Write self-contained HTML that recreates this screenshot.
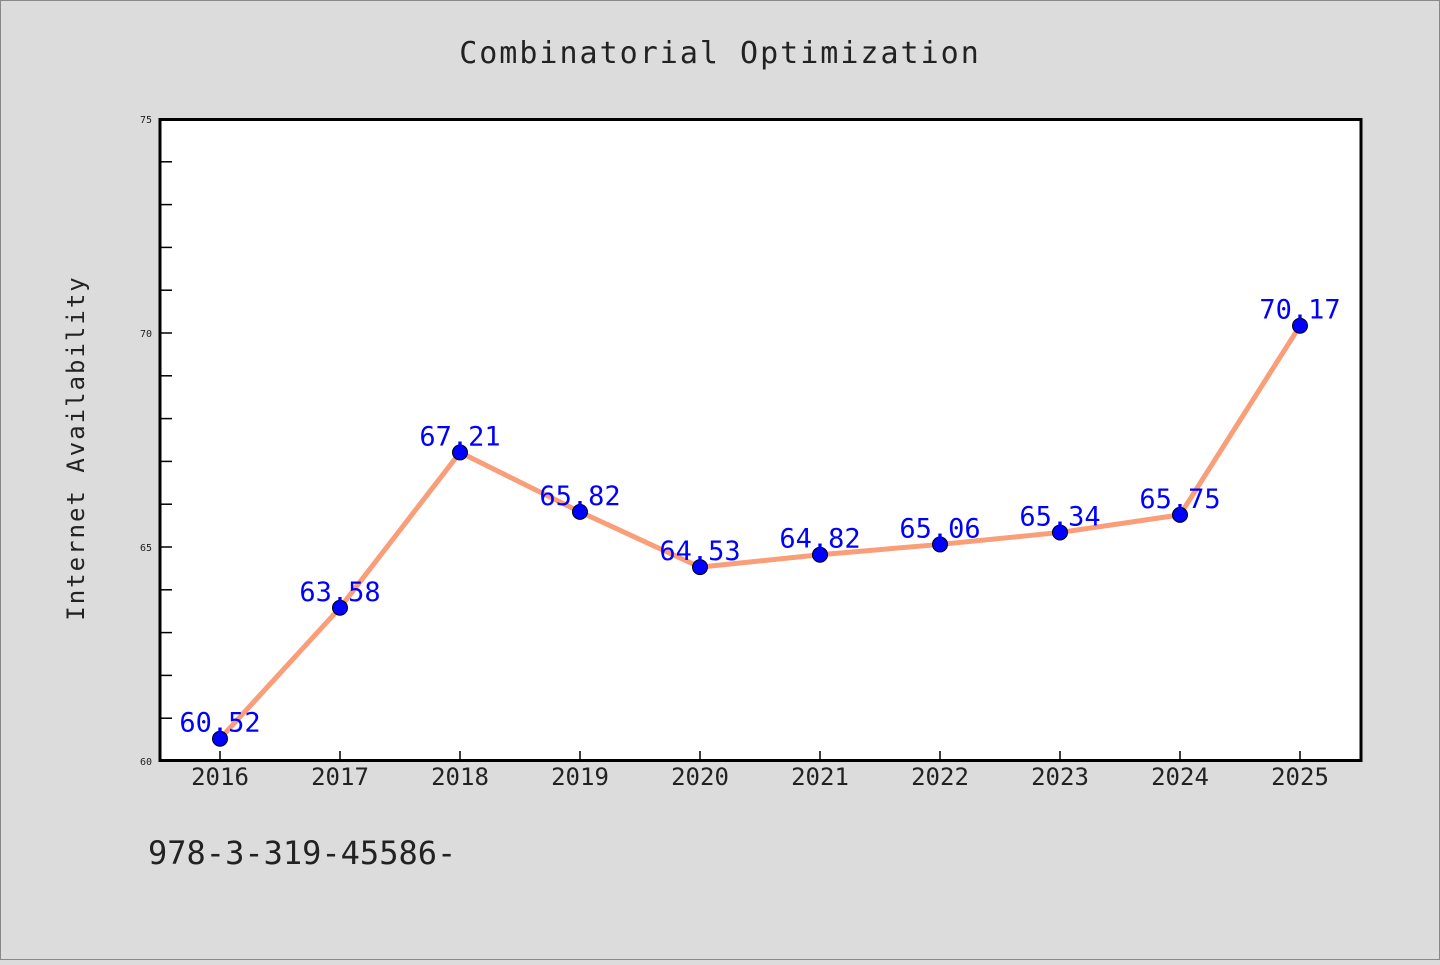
<!DOCTYPE html>
<html><head><meta charset="utf-8"><style>
body{margin:0;background:#dcdcdc;}
svg text{font-family:"WenQuanYi Zen Hei","DejaVu Sans Mono","Liberation Mono",monospace;}
</style></head><body>
<svg id="chart" width="1440" height="960" xmlns="http://www.w3.org/2000/svg">
<rect x="0.5" y="0.5" width="1439" height="959" fill="#dcdcdc" stroke="#888"/>
<text x="720" y="63" text-anchor="middle" font-size="30" fill="#222" letter-spacing="2">Combinatorial Optimization</text>
<text transform="translate(84,448) rotate(-90)" text-anchor="middle" font-size="24" fill="#222" letter-spacing="2">Internet Availability</text>
<text x="148" y="864" font-size="32" fill="#222">978-3-319-45586-</text>
<rect x="160" y="119.5" width="1201" height="641" fill="#fff"/>
<g id="axes"></g>
<g id="marks"></g>
<rect x="160" y="119.5" width="1201" height="641" fill="none" stroke="#000" stroke-width="3"/>
</svg>
<script>
const categories=["2016","2017","2018","2019","2020","2021","2022","2023","2024","2025"];
const values=[60.52,63.58,67.21,65.82,64.53,64.82,65.06,65.34,65.75,70.17];
const yTickLabels=[60,65,70,75];
const yMin=60,yMax=75;
const NS="http://www.w3.org/2000/svg";
function xs(i){return 220+i*120;}
function ys(v){return 761-(v-yMin)/(yMax-yMin)*642;}
function mk(t,a,p){const e=document.createElementNS(NS,t);for(const k in a)e.setAttribute(k,a[k]);p.appendChild(e);return e;}
const axes=document.getElementById('axes'),marks=document.getElementById('marks');
for(let v=yMin;v<=yMax;v++){
  const l=mk('line',{x1:160,x2:172,y1:ys(v),y2:ys(v),stroke:'#000','stroke-width':1.5},axes);
  
  
}
yTickLabels.forEach(v=>{
  const t=mk('text',{x:152,y:ys(v)+4,'text-anchor':'end','font-size':10,fill:'#222'},axes);
  t.textContent=v;
  
  
});
categories.forEach((c,i)=>{
  const l=mk('line',{x1:xs(i),x2:xs(i),y1:761,y2:751,stroke:'#000','stroke-width':1.5},axes);
  
  
  const t=mk('text',{x:xs(i),y:785,'text-anchor':'middle','font-size':24,fill:'#222'},axes);
  t.textContent=c;
  
  
});
const pl=mk('polyline',{points:values.map((v,i)=>xs(i)+','+ys(v)).join(' '),fill:'none',stroke:'#f99e78','stroke-width':5,'stroke-linejoin':'round'},marks);


values.forEach((v,i)=>{
  const c=mk('circle',{cx:xs(i),cy:ys(v),r:7.5,fill:'#0000ff',stroke:'#000','stroke-width':1},marks);
  
  
});
values.forEach((v,i)=>{
  const t=mk('text',{x:xs(i),y:ys(v)-7,'text-anchor':'middle','font-size':27,fill:'#0000ff'},marks);
  t.textContent=v.toFixed(2);
  
  
});
</script>
</body></html>
